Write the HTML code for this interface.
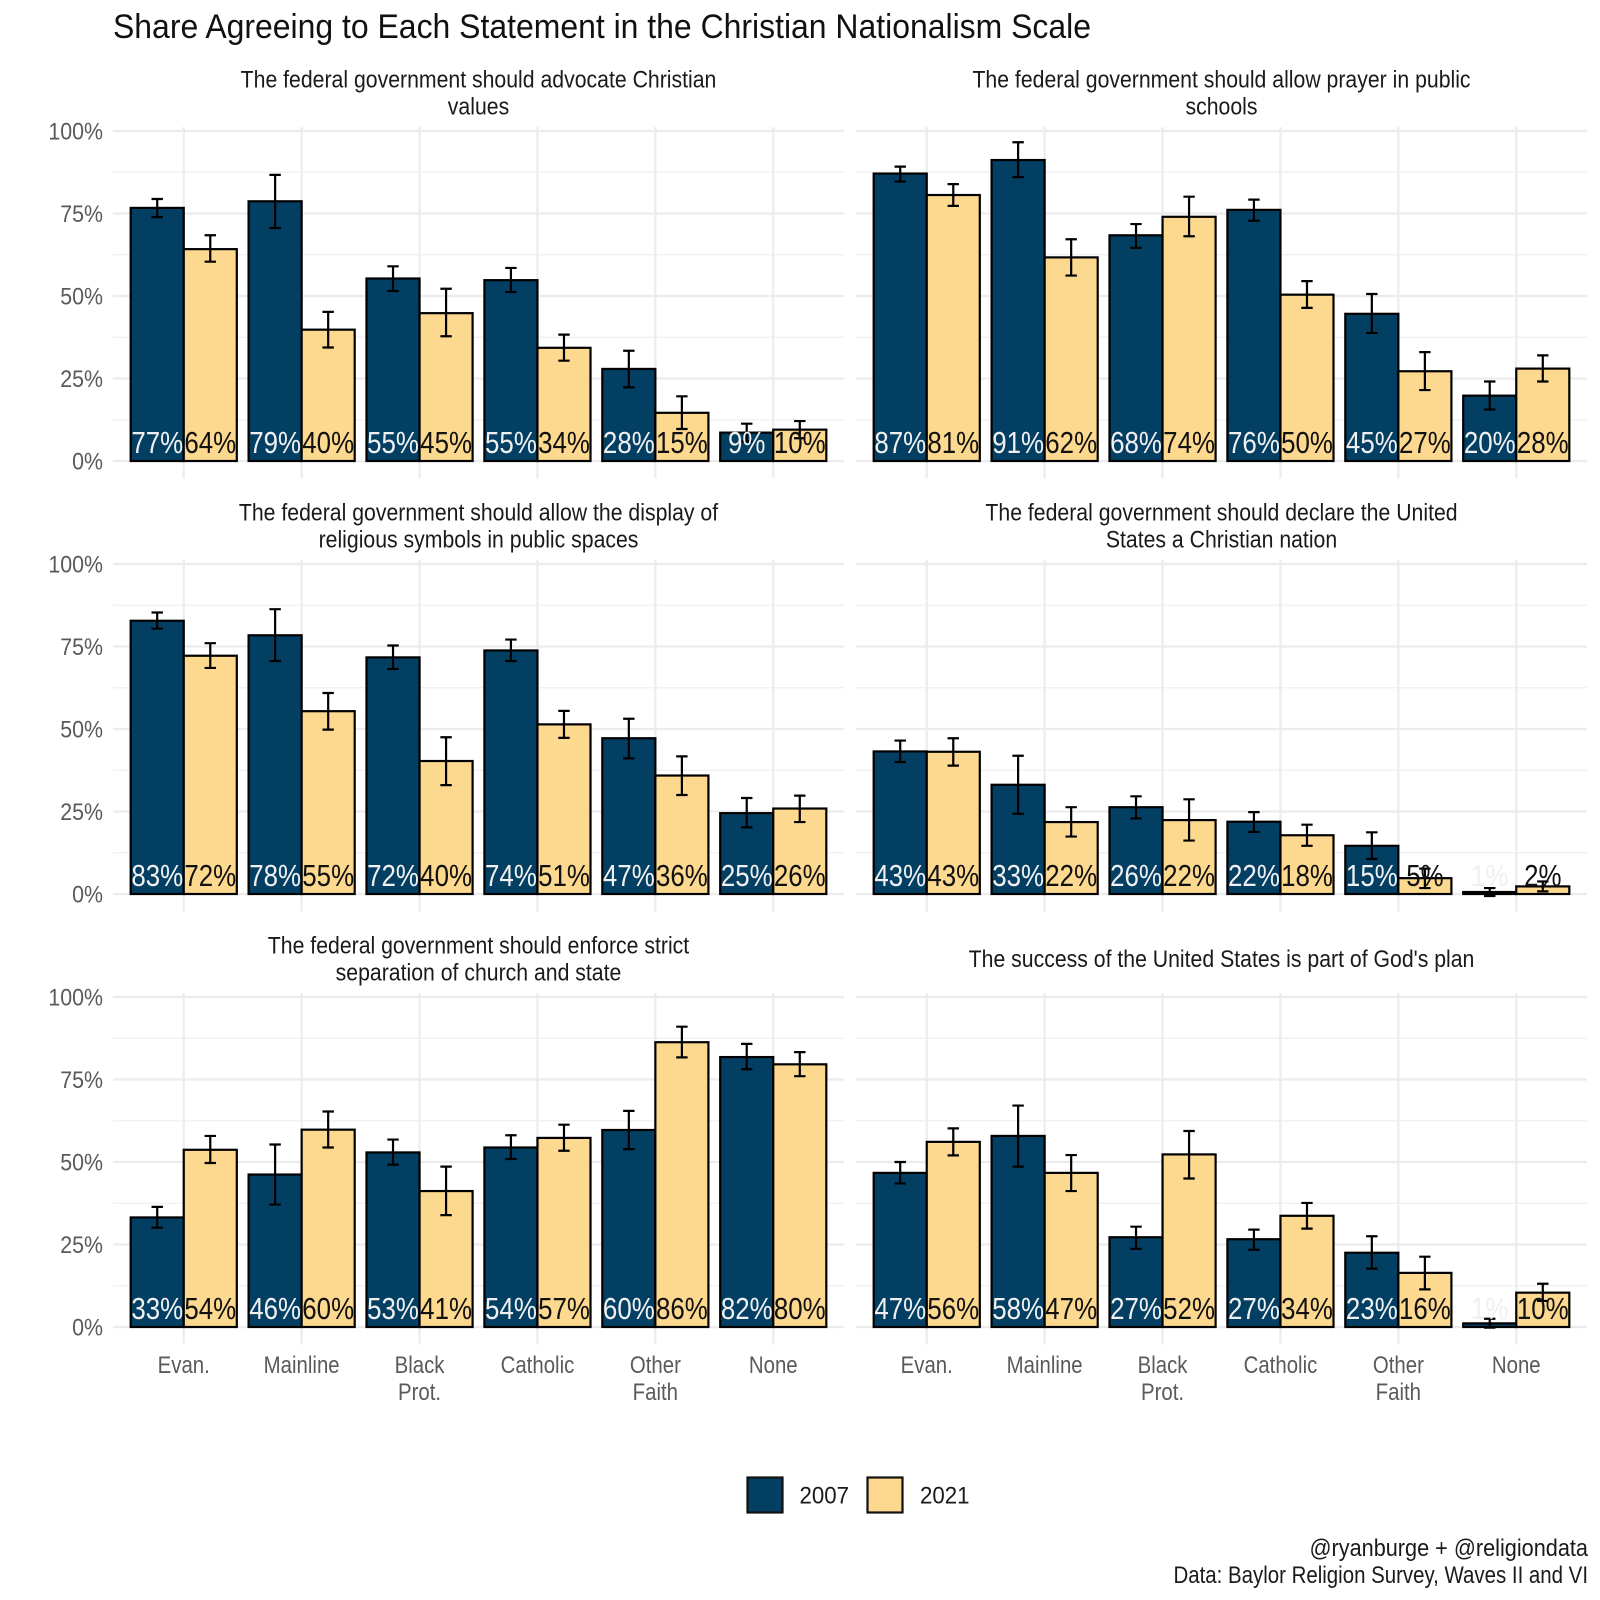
<!DOCTYPE html>
<html lang="en">
<head>
<meta charset="utf-8">
<title>Share Agreeing to Each Statement in the Christian Nationalism Scale</title>
<style>
html,body{margin:0;padding:0;background:#fff;width:1600px;height:1600px;overflow:hidden}
svg{display:block;font-family:"Liberation Sans",Arial,sans-serif}
</style>
</head>
<body>
<svg id="chart" xmlns="http://www.w3.org/2000/svg" width="1600" height="1600" viewBox="0 0 1600 1600">
  <rect x="0" y="0" width="1600" height="1600" fill="#ffffff"/>
  <text x="113" y="38" font-size="34" fill="#111" textLength="978" lengthAdjust="spacingAndGlyphs">Share Agreeing to Each Statement in the Christian Nationalism Scale</text>
  <g>
    <rect x="747.5" y="1477.5" width="35" height="35" fill="#033f63" stroke="#111" stroke-width="2.2"/>
    <text x="799.5" y="1503.5" font-size="24" fill="#1a1a1a" textLength="49.5" lengthAdjust="spacingAndGlyphs">2007</text>
    <rect x="867.5" y="1477.5" width="35" height="35" fill="#fdd98f" stroke="#111" stroke-width="2.2"/>
    <text x="920" y="1503.5" font-size="24" fill="#1a1a1a" textLength="49.5" lengthAdjust="spacingAndGlyphs">2021</text>
  </g>
  <text x="1309.5" y="1556" font-size="24" fill="#1a1a1a" textLength="278.5" lengthAdjust="spacingAndGlyphs">@ryanburge + @religiondata</text>
  <text x="1173.5" y="1583" font-size="24" fill="#1a1a1a" textLength="414.5" lengthAdjust="spacingAndGlyphs">Data: Baylor Religion Survey, Waves II and VI</text>
</svg>
<script>
// ---- data (percent values) ----
const categoryLines = [["Evan."],["Mainline"],["Black","Prot."],["Catholic"],["Other","Faith"],["None"]];
const categoryKeys = ["evan","mainline","black-prot","catholic","other-faith","none"];
const yTicks = [0,25,50,75,100];
const yMinorTicks = [12.5,37.5,62.5,87.5];

const titleLines1 = ["The federal government should advocate Christian","values"];
const titleLines2 = ["The federal government should allow prayer in public","schools"];
const titleLines3 = ["The federal government should allow the display of","religious symbols in public spaces"];
const titleLines4 = ["The federal government should declare the United","States a Christian nation"];
const titleLines5 = ["The federal government should enforce strict","separation of church and state"];
const titleLines6 = ["The success of the United States is part of God's plan"];

const v07p1 = [76.7,78.7,55.3,54.8,27.9,8.6];
const hi07p1 = [79.4,86.7,59.0,58.5,33.4,11.3];
const lo07p1 = [73.9,70.6,51.5,51.2,22.3,5.9];
const v21p1 = [64.2,39.8,44.8,34.3,14.6,9.5];
const hi21p1 = [68.4,45.2,52.2,38.3,19.6,12.1];
const lo21p1 = [60.4,34.4,37.8,30.4,9.7,6.9];

const v07p2 = [87.1,91.2,68.4,76.1,44.6,19.8];
const hi07p2 = [89.2,96.6,71.8,79.2,50.6,24.1];
const lo07p2 = [84.7,86.0,64.6,72.8,38.8,15.6];
const v21p2 = [80.6,61.7,74.0,50.4,27.2,28.0];
const hi21p2 = [83.9,67.2,80.1,54.5,33.0,32.0];
const lo21p2 = [77.3,56.2,68.1,46.4,21.5,24.1];

const v07p3 = [82.8,78.4,71.7,73.8,47.2,24.5];
const hi07p3 = [85.3,86.3,75.3,77.1,53.1,29.1];
const lo07p3 = [80.4,70.6,68.2,70.6,41.1,20.2];
const v21p3 = [72.2,55.4,40.3,51.4,35.9,25.9];
const hi21p3 = [76.0,60.9,47.5,55.5,41.7,29.8];
const lo21p3 = [68.5,49.8,33.0,47.3,30.0,21.8];

const v07p4 = [43.2,33.1,26.3,21.9,14.6,0.6];
const hi07p4 = [46.5,41.9,29.6,24.8,18.7,1.8];
const lo07p4 = [40.0,24.3,22.9,18.8,10.6,-0.6];
const v21p4 = [43.1,21.8,22.4,17.8,4.8,2.3];
const hi21p4 = [47.2,26.3,28.7,21.0,7.7,3.8];
const lo21p4 = [38.9,17.4,16.2,14.6,1.8,0.8];

const v07p5 = [33.2,46.2,52.9,54.4,59.7,81.8];
const hi07p5 = [36.4,55.3,56.8,58.1,65.5,85.8];
const lo07p5 = [30.1,37.1,49.2,50.9,53.9,78.1];
const v21p5 = [53.7,59.8,41.2,57.3,86.3,79.6];
const hi21p5 = [57.9,65.3,48.6,61.3,91.0,83.3];
const lo21p5 = [49.7,54.4,33.9,53.4,81.7,76.0];

const v07p6 = [46.7,57.9,27.2,26.6,22.5,1.1];
const hi07p6 = [50.0,67.1,30.4,29.5,27.5,2.5];
const lo07p6 = [43.5,48.6,23.7,23.4,17.7,-0.2];
const v21p6 = [56.1,46.7,52.3,33.7,16.4,10.4];
const hi21p6 = [60.2,52.1,59.4,37.6,21.3,13.1];
const lo21p6 = [52.0,41.2,45.0,29.8,11.4,7.9];

const panels = [
  {title:titleLines1,v07:v07p1,hi07:hi07p1,lo07:lo07p1,v21:v21p1,hi21:hi21p1,lo21:lo21p1},
  {title:titleLines2,v07:v07p2,hi07:hi07p2,lo07:lo07p2,v21:v21p2,hi21:hi21p2,lo21:lo21p2},
  {title:titleLines3,v07:v07p3,hi07:hi07p3,lo07:lo07p3,v21:v21p3,hi21:hi21p3,lo21:lo21p3},
  {title:titleLines4,v07:v07p4,hi07:hi07p4,lo07:lo07p4,v21:v21p4,hi21:hi21p4,lo21:lo21p4},
  {title:titleLines5,v07:v07p5,hi07:hi07p5,lo07:lo07p5,v21:v21p5,hi21:hi21p5,lo21:lo21p5},
  {title:titleLines6,v07:v07p6,hi07:hi07p6,lo07:lo07p6,v21:v21p6,hi21:hi21p6,lo21:lo21p6}
];

// ---- layout ----
const svg = document.getElementById('chart');
const NS = 'http://www.w3.org/2000/svg';
const panelW = 731, unit = panelW / 6.2, plotH = 330;
const panelLeft = [113, 856];
const panelZero = [461, 894, 1327];
const NAVY = '#033f63', TAN = '#fdd98f';
const titleSx = 0.885, labelSx = 0.835, tickSx = 0.89, catSx = 0.85;

function xCat(col, i) { return panelLeft[col] + (0.6 + i) * unit; }
function yVal(row, v) { return panelZero[row] - v / 100 * plotH; }

function mk(tag, attrs, parent) {
  const el = document.createElementNS(NS, tag);
  for (const k in attrs) el.setAttribute(k, attrs[k]);
  parent.appendChild(el);
  return el;
}
function txt(str, x, y, size, fill, anchor, sx, parent) {
  const el = mk('text', {
    transform: 'translate(' + x + ',' + y + ') scale(' + sx + ',1)',
    'font-size': size, fill: fill, 'text-anchor': anchor
  }, parent);
  el.textContent = str;
  return el;
}

panels.forEach(function (p, idx) {
  const col = idx % 2, row = Math.floor(idx / 2);
  const left = panelLeft[col], right = left + panelW;
  const n = idx + 1;

  const g = mk('g', {}, svg);
  
  

  // facet title
  const centre = left + panelW / 2;
  const base = panelZero[row] - 373.5;
  p.title.forEach(function (line, li) {
    const y = p.title.length === 1 ? base + 13.5 : base + li * 27;
    const t = txt(line, centre, y, 24, '#1a1a1a', 'middle', titleSx, g);
    
    
  });

  // grid
  yMinorTicks.forEach(function (v) {
    const l = mk('line', {x1:left, x2:right, y1:yVal(row,v), y2:yVal(row,v), stroke:'#efefef', 'stroke-width':1.2}, g);
    
    
  });
  yTicks.forEach(function (v) {
    const l = mk('line', {x1:left, x2:right, y1:yVal(row,v), y2:yVal(row,v), stroke:'#ececec', 'stroke-width':2.2}, g);
    
    
  });
  categoryLines.forEach(function (c, i) {
    const l = mk('line', {x1:xCat(col,i), x2:xCat(col,i), y1:yVal(row,100)-4, y2:panelZero[row]+17.5, stroke:'#ececec', 'stroke-width':2.2}, g);
    
    
  });

  // y tick labels (left column only)
  if (col === 0) {
    yTicks.forEach(function (v) {
      const t = txt(v + '%', 103, yVal(row,v) + 8.5, 24, '#5a5a5a', 'end', tickSx, g);
      
      
    });
  }

  // x tick labels (bottom row only)
  if (row === 2) {
    categoryLines.forEach(function (lines, i) {
      lines.forEach(function (s, li) {
        const t = txt(s, xCat(col,i), panelZero[row] + 46 + li * 27, 24, '#5a5a5a', 'middle', catSx, g);
        
        
      });
    });
  }

  // bars
  const barW = 0.45 * unit;
  categoryLines.forEach(function (c, i) {
    const cx = xCat(col,i);
    const a = mk('rect', {x:cx-barW, y:yVal(row,p.v07[i]), width:barW, height:yVal(row,0)-yVal(row,p.v07[i]), fill:NAVY, stroke:'#000', 'stroke-width':2.2}, g);
    
    
    const b = mk('rect', {x:cx, y:yVal(row,p.v21[i]), width:barW, height:yVal(row,0)-yVal(row,p.v21[i]), fill:TAN, stroke:'#000', 'stroke-width':2.2}, g);
    
    
  });

  // error bars
  function errorBar(cx, hi, lo, name) {
    const e = mk('path', {
      d: 'M' + (cx-5.7) + ' ' + yVal(row,hi) + 'H' + (cx+5.7) +
         'M' + cx + ' ' + yVal(row,hi) + 'V' + yVal(row,lo) +
         'M' + (cx-5.7) + ' ' + yVal(row,lo) + 'H' + (cx+5.7),
      fill:'none', stroke:'#000', 'stroke-width':2.2
    }, g);
    
    
  }
  categoryLines.forEach(function (c, i) {
    const cx = xCat(col,i), off = barW / 2;
    errorBar(cx-off, p.hi07[i], p.lo07[i], 'error-bar-2007-' + categoryKeys[i]);
    errorBar(cx+off, p.hi21[i], p.lo21[i], 'error-bar-2021-' + categoryKeys[i]);
  });

  // value labels
  categoryLines.forEach(function (c, i) {
    const cx = xCat(col,i), off = barW / 2, by = panelZero[row] - 8;
    const a = txt(Math.round(p.v07[i]) + '%', cx-off, by, 31, '#f0f0f0', 'middle', labelSx, g);
    
    
    const b = txt(Math.round(p.v21[i]) + '%', cx+off, by, 31, '#111111', 'middle', labelSx, g);
    
    
  });
});
</script>
</body>
</html>
